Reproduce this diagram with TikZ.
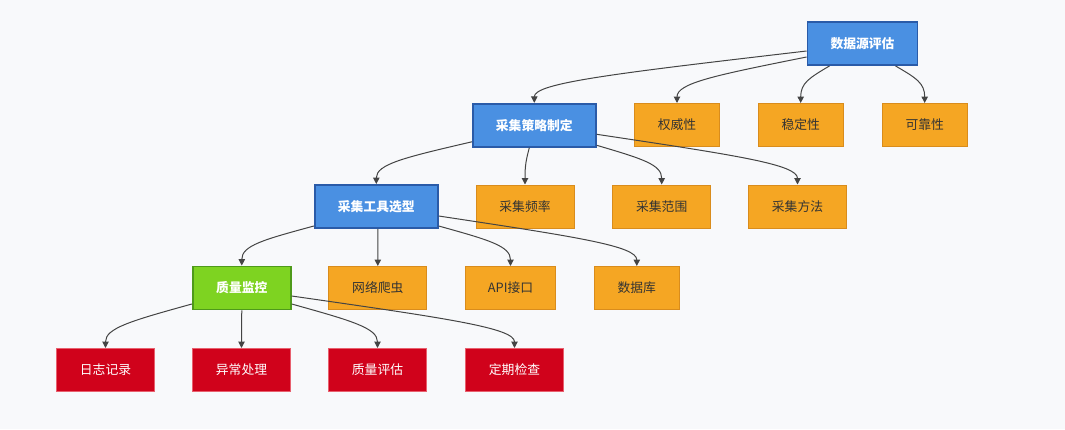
\documentclass[tikz,border=0pt]{standalone}
\usepackage{fontspec}
\setmainfont{Noto Sans CJK SC}
\usetikzlibrary{arrows.meta,calc}
\definecolor{bg}{HTML}{F8F9FB}
\definecolor{bluef}{HTML}{4A90E2}
\definecolor{blued}{HTML}{2A5BA8}
\definecolor{orf}{HTML}{F5A623}
\definecolor{ord}{HTML}{D98C1C}
\definecolor{grf}{HTML}{7ED321}
\definecolor{grd}{HTML}{4E9A1A}
\definecolor{redf}{HTML}{D0021B}
\definecolor{redd}{HTML}{E8606E}
\definecolor{edgec}{HTML}{444444}
\definecolor{txt}{HTML}{333333}
\tikzset{
  box/.style={rectangle, minimum height=32.25pt, inner sep=0pt, font=\fontsize{9.6}{12}\selectfont},
  bluebox/.style={box, fill=bluef, draw=blued, line width=1.4pt, text=white, font=\fontsize{9.6}{12}\selectfont\bfseries},
  orbox/.style={box, fill=orf, draw=ord, line width=0.75pt, text=txt},
  grbox/.style={box, fill=grf, draw=grd, line width=1.4pt, text=white, font=\fontsize{9.6}{12}\selectfont\bfseries},
  redbox/.style={box, fill=redf, draw=redd, line width=0.75pt, text=white},
  wthree/.style={minimum width=63.75pt},
  wfour/.style={minimum width=73.5pt},
  wfive/.style={minimum width=82.5pt},
  wsix/.style={minimum width=92.25pt},
  link/.style={draw=edgec, line width=0.75pt, -{Triangle[length=4.8pt,width=4.8pt]},
    to path={ .. controls ($(\tikztostart)!0.7!($(\tikztotarget)+(0,-20)$)$) and ($(\tikztotarget)+(0,-20)$) .. (\tikztotarget) \tikztonodes}}
}
\begin{document}
\begin{tikzpicture}[x=0.75pt,y=-0.75pt]
\fill[bg] (0,0) rectangle (1065,429);
\useasboundingbox (0,0) rectangle (1065,429);
% row 1
\node[bluebox,wfive] (ds) at (862.5,43.5) {数据源评估};
% row 2
\node[orbox,wthree] (qw) at (677,125) {权威性};
\node[orbox,wthree] (wd) at (800.7,125) {稳定性};
\node[orbox,wthree] (kk) at (924.7,125) {可靠性};
\node[bluebox,wsix] (cl) at (534.3,125.3) {采集策略制定};
% row 3
\node[orbox,wfour] (pl) at (525,206.5) {采集频率};
\node[orbox,wfour] (fw) at (661.7,206.5) {采集范围};
\node[orbox,wfour] (ff) at (797.5,206.5) {采集方法};
\node[bluebox,wsix] (gj) at (376.3,206.5) {采集工具选型};
% row 4
\node[grbox,wfour] (zl) at (241.8,288) {质量监控};
\node[orbox,wfour] (pc) at (377.8,288) {网络爬虫};
\node[orbox,minimum width=67.5pt] (api) at (510.5,288) {API接口};
\node[orbox,wthree] (db) at (636.8,288) {数据库};
% row 5
\node[redbox,wfour] (rz) at (105.5,370) {日志记录};
\node[redbox,wfour] (yc) at (241.5,370) {异常处理};
\node[redbox,wfour] (zp) at (377.5,370) {质量评估};
\node[redbox,wfour] (dq) at (514.5,370) {定期检查};
% start points
\coordinate (s1) at ($(ds.west)+(0,7.5)$);
\coordinate (s2) at ($(ds.west)+(0,13.5)$);
\coordinate (s3) at ($(ds.south)+(-33,0)$);
\coordinate (s4) at ($(ds.south)+(33,0)$);
\coordinate (s5) at ($(cl.west)+(0,16.5)$);
\coordinate (s6) at ($(cl.south)+(-5,0)$);
\coordinate (s7) at ($(cl.east)+(0,20)$);
\coordinate (s8) at ($(cl.east)+(0,9)$);
\coordinate (s9) at ($(gj.west)+(0,19.5)$);
\coordinate (s10) at ($(gj.south)+(1.5,0)$);
\coordinate (s11) at ($(gj.east)+(0,19.5)$);
\coordinate (s12) at ($(gj.east)+(0,9.5)$);
\coordinate (s13) at ($(zl.west)+(0,16)$);
\coordinate (s14) at (zl.south);
\coordinate (s15) at ($(zl.east)+(0,16)$);
\coordinate (s16) at ($(zl.east)+(0,8)$);
% connectors
\draw[link] (s1) to (cl.north);
\draw[link] (s2) to (qw.north);
\draw[link] (s3) to (wd.north);
\draw[link] (s4) to (kk.north);
\draw[link] (s5) to (gj.north);
\draw[link] (s6) to (pl.north);
\draw[link] (s7) to (fw.north);
\draw[link] (s8) to (ff.north);
\draw[link] (s9) to (zl.north);
\draw[link] (s10) to (pc.north);
\draw[link] (s11) to (api.north);
\draw[link] (s12) to (db.north);
\draw[link] (s13) to (rz.north);
\draw[link] (s14) to (yc.north);
\draw[link] (s15) to (zp.north);
\draw[link] (s16) to (dq.north);
\end{tikzpicture}
\end{document}
